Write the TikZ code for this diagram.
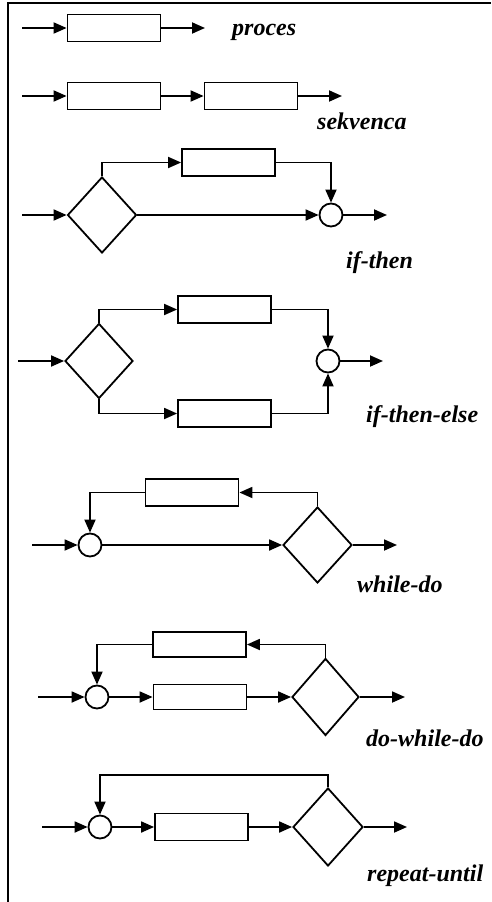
\documentclass[tikz,border=0pt]{standalone}
\usepackage{fontspec}
\setmainfont{Liberation Serif}
\usetikzlibrary{arrows.meta,shapes.geometric}

\begin{document}
\begin{tikzpicture}[x=1pt, y=-1pt, line width=1.8pt,
		arr/.style={-{Triangle[length=13pt,width=11pt]}},
		blok/.style={draw, rectangle, inner sep=0pt, minimum width=93pt, minimum height=27pt},
		uslov/.style={draw, diamond, inner sep=0pt, aspect=0.9, minimum width=69pt, minimum height=76pt},
		spoj/.style={draw, circle, inner sep=0pt, minimum size=23pt},
		naziv/.style={anchor=base west, font=\fontsize{24}{28}\selectfont\bfseries\itshape}]
		\useasboundingbox ( 0, 0 ) rectangle ( 491, 902 );

		% рамка
		\draw [line width=2.2pt] ( 8, 902 ) -- ( 8, 3 ) -- ( 491, 3 );

		% процесс
		\coordinate (pin) at ( 22, 28 );
		\node [blok] (p1) at ( 114, 28 ) {};
		\coordinate (pout) at ( 205, 28 );
		\node [naziv] at ( 228, 35 ) {proces};
		\draw [arr] (pin) -- (p1);
		\draw [arr] (p1) -- (pout);

		% последовательность
		\coordinate (sin) at ( 22, 96 );
		\node [blok] (s1) at ( 114, 96 ) {};
		\node [blok] (s2) at ( 251, 96 ) {};
		\coordinate (sout) at ( 342, 96 );
		\node [naziv] at ( 313, 129 ) {sekvenca};
		\draw [arr] (sin) -- (s1);
		\draw [arr] (s1) -- (s2);
		\draw [arr] (s2) -- (sout);

		% if-then
		\coordinate (iin) at ( 22, 215 );
		\node [uslov] (i1) at ( 102, 215 ) {};
		\node [blok] (i2) at ( 228.5, 162.5 ) {};
		\node [spoj] (i3) at ( 331, 215 ) {};
		\coordinate (iout) at ( 387, 215 );
		\node [naziv] at ( 342, 268 ) {if-then};
		\draw [arr] (iin) -- (i1.west);
		\draw [arr] (i1.north) |- (i2.west);
		\draw [arr] (i2.east) -| (i3.north);
		\draw [arr] (i1.east) -- (i3.west);
		\draw [arr] (i3.east) -- (iout);

		% if-then-else
		\coordinate (ein) at ( 18, 361 );
		\node [uslov, minimum width=68pt, minimum height=75pt] (e1) at ( 99, 361 ) {};
		\node [blok] (e2) at ( 224.5, 309.5 ) {};
		\node [blok] (e3) at ( 224.5, 413.5 ) {};
		\node [spoj] (e4) at ( 328, 361 ) {};
		\coordinate (eout) at ( 383, 361 );
		\node [naziv] at ( 362, 422 ) {if-then-else};
		\draw [arr] (ein) -- (e1.west);
		\draw [arr] (e1.north) |- (e2.west);
		\draw [arr] (e1.south) |- (e3.west);
		\draw [arr] (e2.east) -| (e4.north);
		\draw [arr] (e3.east) -| (e4.south);
		\draw [arr] (e4.east) -- (eout);

		% while-do
		\coordinate (win) at ( 32, 545 );
		\node [spoj] (w1) at ( 90, 545 ) {};
		\node [uslov] (w2) at ( 317.5, 545 ) {};
		\node [blok] (w3) at ( 192, 492.5 ) {};
		\coordinate (wout) at ( 397, 545 );
		\node [naziv] at ( 353, 592 ) {while-do};
		\draw [arr] (win) -- (w1.west);
		\draw [arr] (w1.east) -- (w2.west);
		\draw [arr] (w2.north) |- (w3.east);
		\draw [arr] (w3.west) -| (w1.north);
		\draw [arr] (w2.east) -- (wout);

		% do-while-do
		\coordinate (din) at ( 38, 697 );
		\node [spoj] (d1) at ( 97, 697 ) {};
		\node [blok, minimum height=25pt] (d2) at ( 200, 697 ) {};
		\node [uslov, minimum width=67pt, minimum height=77pt] (d3) at ( 325.5, 697 ) {};
		\node [blok, minimum height=25pt] (d4) at ( 199.5, 644.5 ) {};
		\coordinate (dout) at ( 405, 697 );
		\node [naziv] at ( 362, 746 ) {do-while-do};
		\draw [arr] (din) -- (d1.west);
		\draw [arr] (d1.east) -- (d2.west);
		\draw [arr] (d2.east) -- (d3.west);
		\draw [arr] (d3.north) |- (d4.east);
		\draw [arr] (d4.west) -| (d1.north);
		\draw [arr] (d3.east) -- (dout);

		% repeat-until
		\coordinate (rin) at ( 42, 827 );
		\node [spoj] (r1) at ( 100, 827 ) {};
		\node [blok] (r2) at ( 201.5, 827 ) {};
		\node [uslov, minimum width=70pt, minimum height=78pt] (r3) at ( 328, 827 ) {};
		\coordinate (rtop) at ( 328, 775 );
		\coordinate (rout) at ( 407, 827 );
		\node [naziv] at ( 363, 881 ) {repeat-until};
		\draw [arr] (rin) -- (r1.west);
		\draw [arr] (r1.east) -- (r2.west);
		\draw [arr] (r2.east) -- (r3.west);
		\draw [arr] (r3.north) -- (rtop) -| (r1.north);
		\draw [arr] (r3.east) -- (rout);
	\end{tikzpicture}
\end{document}
